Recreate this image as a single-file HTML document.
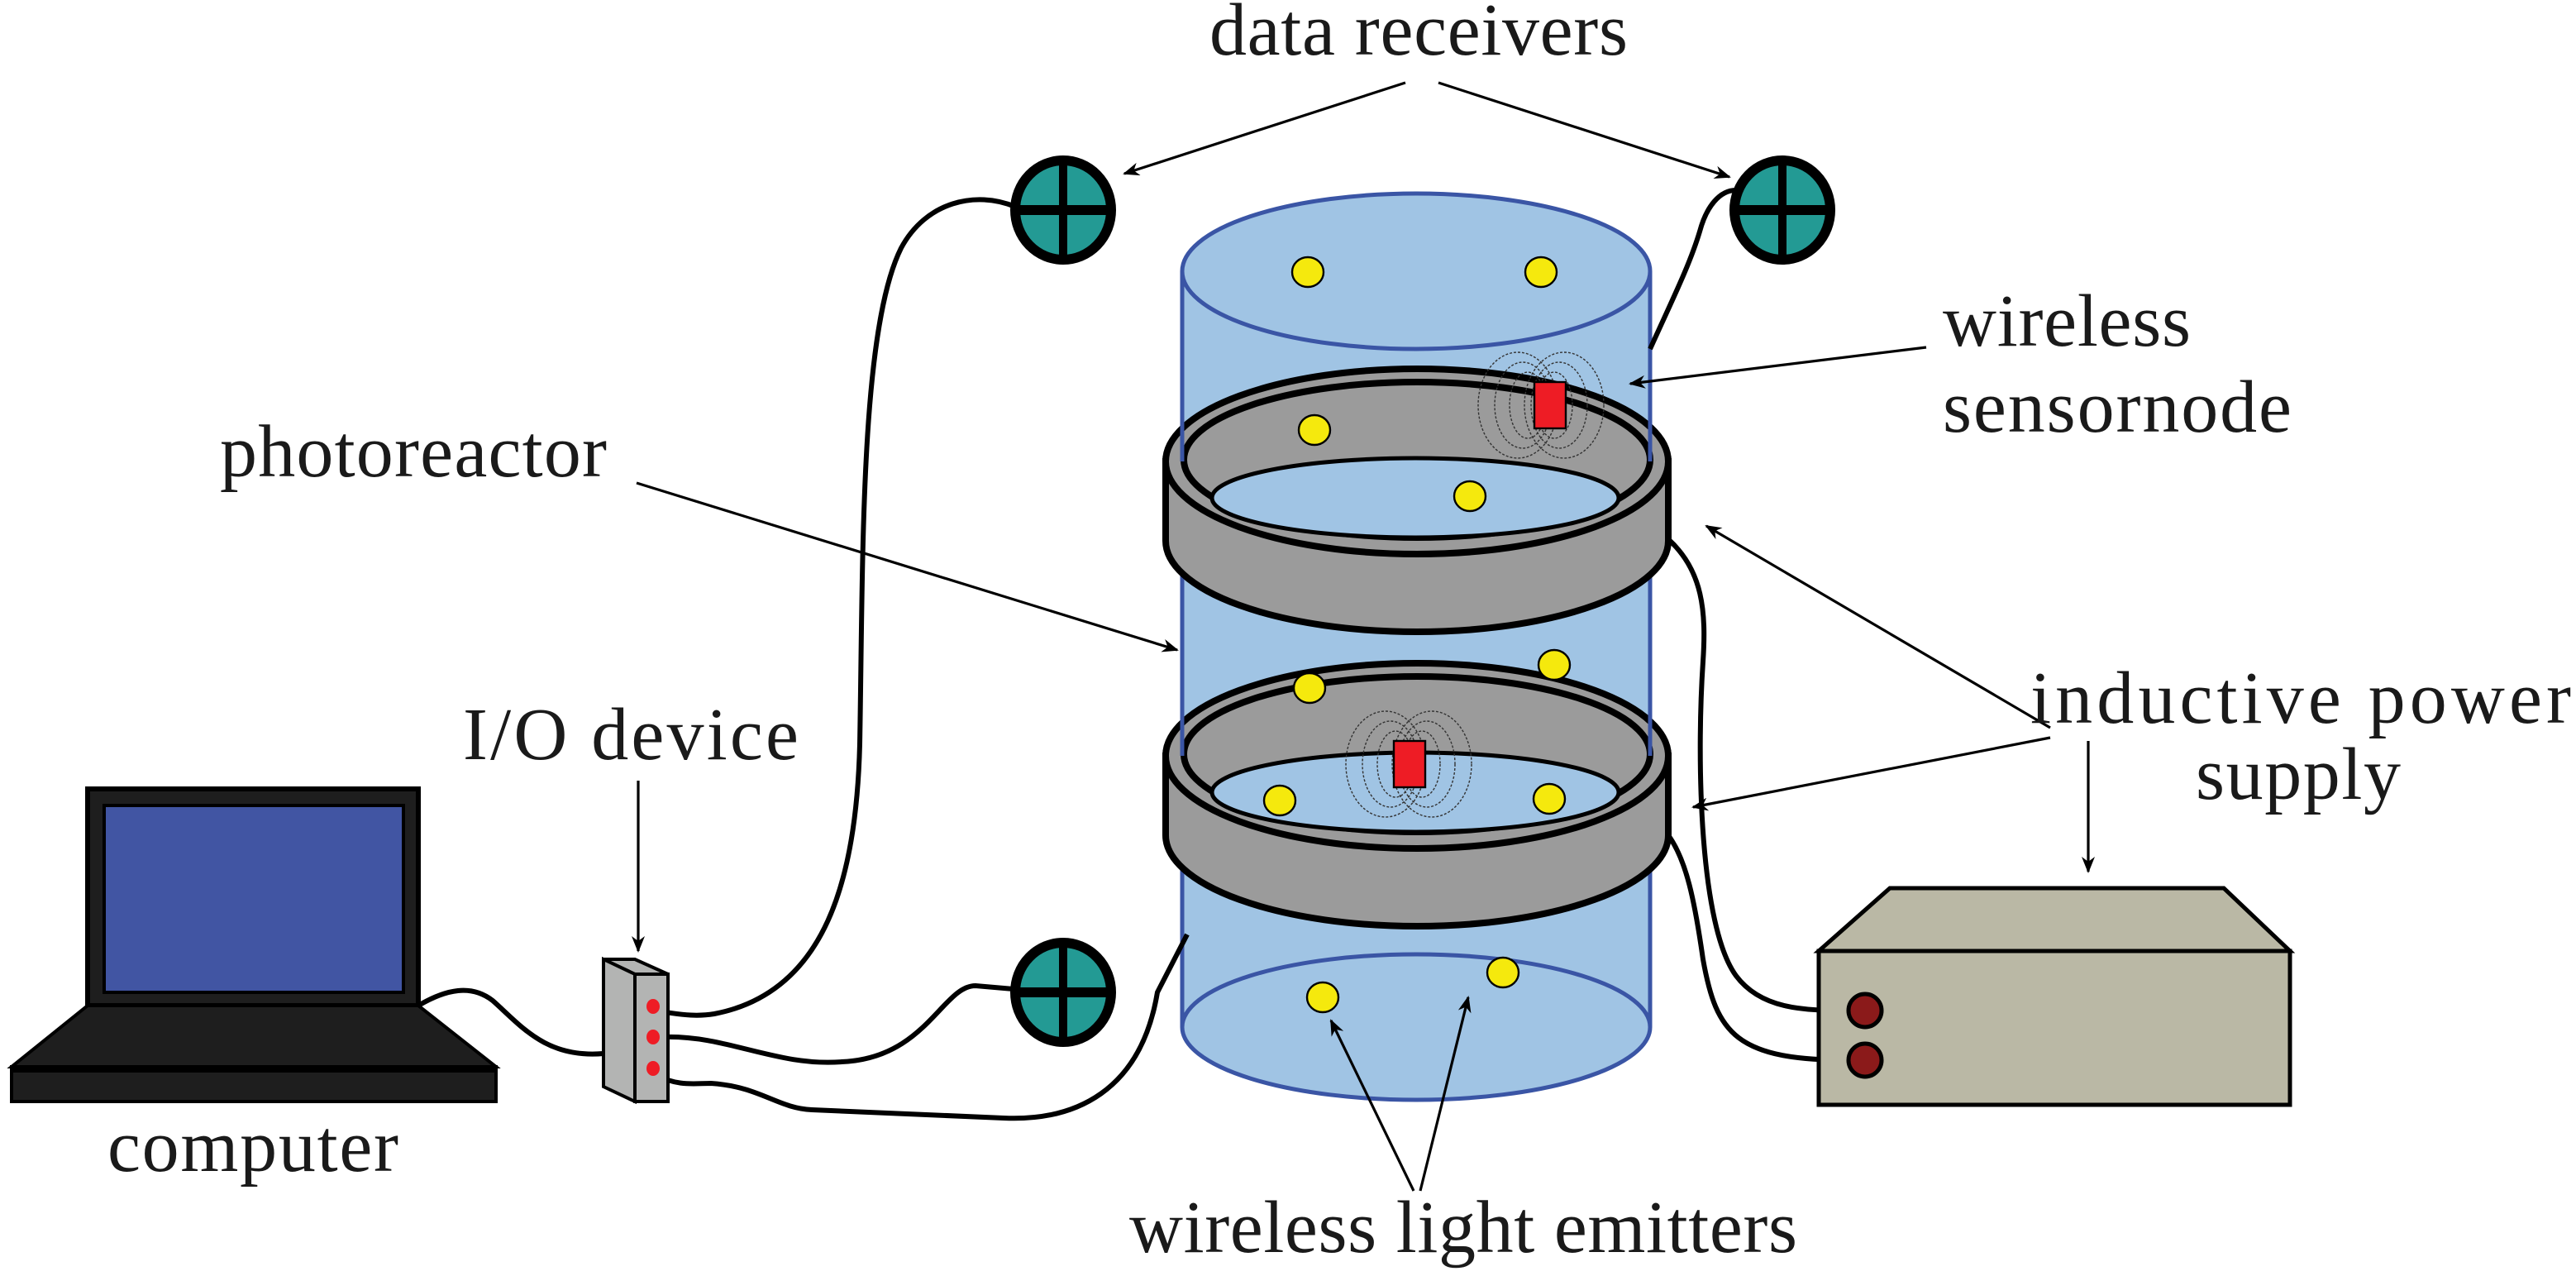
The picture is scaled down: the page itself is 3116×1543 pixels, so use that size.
<!DOCTYPE html>
<html><head><meta charset="utf-8"><style>
html,body{margin:0;padding:0;background:#fff;}
svg{display:block;}
text{font-family:"Liberation Serif",serif;font-size:45px;fill:#1a1a1a;}
</style></head><body>
<svg width="3116" height="1543" viewBox="0 0 1558 771.5" xmlns="http://www.w3.org/2000/svg">
<defs>
<marker id="ah" markerWidth="10" markerHeight="8" refX="9" refY="4" orient="auto" markerUnits="userSpaceOnUse">
<path d="M0,0 L10,4 L0,8 L3,4 Z" fill="#000"/></marker>
<g id="recv">
<ellipse cx="0" cy="0" rx="29" ry="30" fill="#239a94" stroke="#000" stroke-width="6"/>
<line x1="-27" y1="0" x2="27" y2="0" stroke="#000" stroke-width="6"/>
<line x1="0" y1="-28" x2="0" y2="28" stroke="#000" stroke-width="5"/>
</g>
<g id="dot"><ellipse cx="0" cy="0" rx="9.5" ry="9" fill="#f5e90d" stroke="#000" stroke-width="1.2"/></g>
<g id="field" fill="none" stroke="#333" stroke-width="0.7" stroke-dasharray="1.5,1">
<ellipse cx="-14" cy="0" rx="24" ry="32"/><ellipse cx="14" cy="0" rx="24" ry="32"/>
<ellipse cx="-11" cy="0" rx="17" ry="26"/><ellipse cx="11" cy="0" rx="17" ry="26"/>
<ellipse cx="-8" cy="0" rx="11" ry="20"/><ellipse cx="8" cy="0" rx="11" ry="20"/>
</g>
<g id="ring">
<path d="M705,279 L705,327 A152,55 0 0 0 1009,327 L1009,279 Z" fill="#9b9b9b" stroke="#000" stroke-width="4"/>
<ellipse cx="857" cy="279" rx="152" ry="56" fill="#9b9b9b" stroke="#000" stroke-width="4"/>
<ellipse cx="857" cy="278" rx="141" ry="47" fill="#9b9b9b" stroke="#000" stroke-width="4"/>
<ellipse cx="856" cy="301" rx="123" ry="24" fill="#a0c4e4" stroke="#000" stroke-width="2.5"/>
</g>
</defs>

<rect x="715" y="164" width="283" height="457" fill="#a0c4e4"/>
<ellipse cx="856.5" cy="621" rx="141.5" ry="44" fill="#a0c4e4" stroke="#3a55a5" stroke-width="2.5"/>
<line x1="715" y1="164" x2="715" y2="621" stroke="#3a55a5" stroke-width="2.5"/>
<line x1="998" y1="164" x2="998" y2="621" stroke="#3a55a5" stroke-width="2.5"/>
<ellipse cx="856.5" cy="164" rx="141.5" ry="47" fill="#a0c4e4" stroke="#3a55a5" stroke-width="2.5"/>
<use href="#dot" x="791" y="164.5"/><use href="#dot" x="932" y="164.5"/>

<use href="#ring"/>
<line x1="715" y1="235" x2="715" y2="279" stroke="#3a55a5" stroke-width="2.5"/>
<line x1="998" y1="235" x2="998" y2="279" stroke="#3a55a5" stroke-width="2.5"/>
<use href="#dot" x="795" y="260"/><use href="#dot" x="889" y="300"/>
<use href="#field" x="932" y="245"/>
<rect x="928" y="231" width="19" height="28" fill="#ee1c25" stroke="#000" stroke-width="1.2"/>

<use href="#ring" y="178"/>
<line x1="715" y1="413" x2="715" y2="457" stroke="#3a55a5" stroke-width="2.5"/>
<line x1="998" y1="413" x2="998" y2="457" stroke="#3a55a5" stroke-width="2.5"/>
<use href="#dot" x="792" y="416"/><use href="#dot" x="940" y="402"/>
<use href="#dot" x="774" y="484"/><use href="#dot" x="937" y="483"/>
<use href="#field" x="852" y="462"/>
<rect x="843" y="448" width="19" height="28" fill="#ee1c25" stroke="#000" stroke-width="1.2"/>

<use href="#dot" x="800" y="603"/><use href="#dot" x="909" y="588"/>

<use href="#recv" x="643" y="127"/>
<use href="#recv" x="1078" y="127"/>
<use href="#recv" x="643" y="600"/>

<g fill="none" stroke="#000" stroke-width="3">
<path d="M253,608 C270,598 285,595 298,605 C315,620 330,640 365,637"/>
<path d="M402,612 C410,613 420,615 432,613 C500,600 518,530 520,450 C522,340 520,200 545,150 C560,122 590,115 614,125"/>
<path d="M402,627 C440,626 470,645 509,642 C560,640 570,596 590,596 L613,598"/>
<path d="M397,650 C410,657 420,655 430,655 C460,657 470,670 491,671 L607,676 C650,678 690,660 700,600 L718,565"/>
<path d="M998,211 C1012,180 1022,160 1028,140 C1032,125 1040,115 1050,115"/>
<path d="M1009,326 C1030,345 1032,370 1030,400 C1026,460 1028,560 1050,590 C1065,610 1090,611 1118,611"/>
<path d="M1009,505 C1020,520 1025,545 1030,580 C1038,625 1050,641 1118,641"/>
</g>

<rect x="53" y="477" width="200" height="131" fill="#1e1e1e" stroke="#000" stroke-width="3"/>
<rect x="63" y="487" width="181" height="113" fill="#4155a3" stroke="#000" stroke-width="2"/>
<path d="M53,608 L253,608 L300,645 L7,645 Z" fill="#1e1e1e" stroke="#000" stroke-width="2"/>
<rect x="7" y="645" width="293" height="21" fill="#1e1e1e" stroke="#000" stroke-width="2"/>
<line x1="7" y1="647" x2="300" y2="647" stroke="#000" stroke-width="3"/>

<path d="M365,580 L384,580 L404,589 L384,589 Z" fill="#b3b4b3" stroke="#000" stroke-width="2"/>
<path d="M365,580 L384,589 L384,666 L365,657 Z" fill="#b3b4b3" stroke="#000" stroke-width="2"/>
<rect x="384" y="589" width="20" height="77" fill="#b3b4b3" stroke="#000" stroke-width="2"/>
<ellipse cx="395" cy="608.5" rx="4" ry="4.5" fill="#ee1c25"/>
<ellipse cx="395" cy="627" rx="4" ry="4.5" fill="#ee1c25"/>
<ellipse cx="395" cy="646" rx="4" ry="4.5" fill="#ee1c25"/>

<path d="M1100,575 L1143,537 L1345,537 L1385,575 Z" fill="#bab8a5" stroke="#000" stroke-width="2.5"/>
<rect x="1100" y="575" width="285" height="93" fill="#bab8a5" stroke="#000" stroke-width="2.5"/>
<circle cx="1128" cy="611" r="10" fill="#8b1a1a" stroke="#000" stroke-width="2.5"/>
<circle cx="1128" cy="641" r="10" fill="#8b1a1a" stroke="#000" stroke-width="2.5"/>

<g stroke="#000" stroke-width="1.6" fill="none" marker-end="url(#ah)">
<line x1="850" y1="50" x2="680" y2="105"/>
<line x1="870" y1="50" x2="1046" y2="107"/>
<line x1="1165" y1="210" x2="986" y2="232"/>
<line x1="385" y1="292" x2="712" y2="393"/>
<line x1="1240" y1="440" x2="1032" y2="318"/>
<line x1="1240" y1="446" x2="1024" y2="488"/>
<line x1="1263" y1="448" x2="1263" y2="527"/>
<line x1="386" y1="472" x2="386" y2="575"/>
<line x1="855" y1="720" x2="805" y2="617"/>
<line x1="859" y1="720" x2="888" y2="603"/>
</g>

<text x="858" y="33" text-anchor="middle" textLength="253">data receivers</text>
<text x="1175" y="209" textLength="150">wireless</text>
<text x="1175" y="261" textLength="211">sensornode</text>
<text x="133" y="288" textLength="234">photoreactor</text>
<text x="1228" y="437" textLength="327">inductive power</text>
<text x="1328" y="483" textLength="124">supply</text>
<text x="280" y="459" textLength="203">I/O device</text>
<text x="65" y="708" textLength="176">computer</text>
<text x="683" y="757" textLength="404">wireless light emitters</text>
</svg>
</body></html>
